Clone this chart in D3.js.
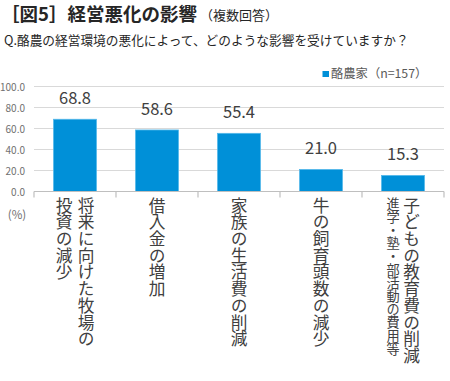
<!DOCTYPE html>
<html><head><meta charset="utf-8">
<script src="https://cdn.jsdelivr.net/npm/d3@7"></script>
<style>
html,body{margin:0;padding:0;background:#fff;}
svg{display:block;font-family:"Noto Sans CJK JP","Noto Sans",sans-serif;}
</style></head>
<body>
<svg id="c" width="450" height="381"></svg>
<script>
const title = "［図5］経営悪化の影響";
const titleNote = "（複数回答）";
const question = "Q.酪農の経営環境の悪化によって、どのような影響を受けていますか？";
const seriesName = "酪農家（n=157）";
const categories = [
  ["将来に向けた牧場の", "投資の減少"],
  ["借入金の増加"],
  ["家族の生活費の削減"],
  ["牛の飼育頭数の減少"],
  ["子どもの教育費の削減"]
];
const categoryNotes = [null, null, null, null, "進学・塾・部活動の費用等"];
const values = [68.8, 58.6, 55.4, 21.0, 15.3];
const yTicks = [0, 20, 40, 60, 80, 100];
const unitLabel = "(%)";

const svg = d3.select("#c");
const pLeft = 34, pRight = 444, pTop = 86.5, pBottom = 191.5;

const x = d3.scaleBand().domain(d3.range(values.length)).range([pLeft, pRight])
  .paddingInner(0.476).paddingOuter(0.238);
const y = d3.scaleLinear().domain([0, 100]).range([pBottom, pTop]);

// titles
const t = svg.append("text").attr("x", 1).attr("y", 21).attr("fill", "#262626");
t.append("tspan").attr("font-size", 18.5).attr("font-weight", "bold").text(title);
t.append("tspan").attr("font-size", 13).attr("dx", 3).attr("dy", -1).text(titleNote);
svg.append("text").attr("x", 4).attr("y", 45).attr("font-size", 12.7).attr("fill", "#262626").text(question);

// grid
svg.append("g").selectAll("line").data(yTicks.filter(d => d > 0)).join("line")
  .attr("x1", pLeft).attr("x2", pRight)
  .attr("y1", d => y(d)).attr("y2", d => y(d))
  .attr("stroke", "#d9d9d9").attr("stroke-width", 1.2);

// y axis labels
svg.append("g").selectAll("text").data(yTicks).join("text")
  .attr("x", 25).attr("y", d => y(d) + 4)
  .attr("text-anchor", "end").attr("font-size", 10).attr("fill", "#707070")
  .text(d => d3.format(".1f")(d));

// bars
svg.append("g").selectAll("rect").data(values).join("rect")
  .attr("x", (d, i) => x(i)).attr("width", x.bandwidth())
  .attr("y", d => y(d)).attr("height", d => y(0) - y(d))
  .attr("fill", "#0090d8").attr("stroke", "#55b8ea").attr("stroke-width", 0.8);

// value labels
svg.append("g").selectAll("text").data(values).join("text")
  .attr("x", (d, i) => x(i) + x.bandwidth() / 2).attr("y", d => y(d) - 15)
  .attr("text-anchor", "middle").attr("font-size", 16.5).attr("fill", "#404040")
  .text(d => d3.format(".1f")(d));

// x axis
svg.append("line").attr("x1", pLeft).attr("x2", pRight).attr("y1", y(0)).attr("y2", y(0))
  .attr("stroke", "#bfbfbf").attr("stroke-width", 1.2);
const bounds = d3.range(values.length + 1).map(i => pLeft + i * x.step());
svg.append("g").selectAll("line").data(bounds).join("line")
  .attr("x1", d => d).attr("x2", d => d).attr("y1", y(0)).attr("y2", y(0) + 6)
  .attr("stroke", "#bfbfbf").attr("stroke-width", 1.2);

// category labels (vertical)
categories.forEach((cols, i) => {
  const cx = x(i) + x.bandwidth() / 2;
  const note = categoryNotes[i];
  const n = cols.length;
  cols.forEach((c, j) => {
    let off;
    if (note) off = 8.5;
    else off = (n === 1) ? 0 : ((n - 1) / 2 - j) * 22;
    svg.append("text").attr("x", cx + off).attr("y", 197)
      .style("writing-mode", "vertical-rl")
      .attr("font-size", 16.7).attr("fill", "#404040").text(c);
  });
  if (note) {
    svg.append("text").attr("x", cx - 10).attr("y", 197)
      .style("writing-mode", "vertical-rl")
      .attr("font-size", 13.2).attr("fill", "#404040").text(note);
  }
});

svg.append("text").attr("x", 17).attr("y", 219).attr("text-anchor", "middle")
  .attr("font-size", 11.5).attr("fill", "#707070").text(unitLabel);

// legend
svg.append("rect").attr("x", 322.5).attr("y", 71).attr("width", 6.5).attr("height", 6)
  .attr("fill", "#0090d8");
svg.append("text").attr("x", 331).attr("y", 78).attr("font-size", 12.3)
  .attr("fill", "#595959").text(seriesName);
</script>
</body></html>
